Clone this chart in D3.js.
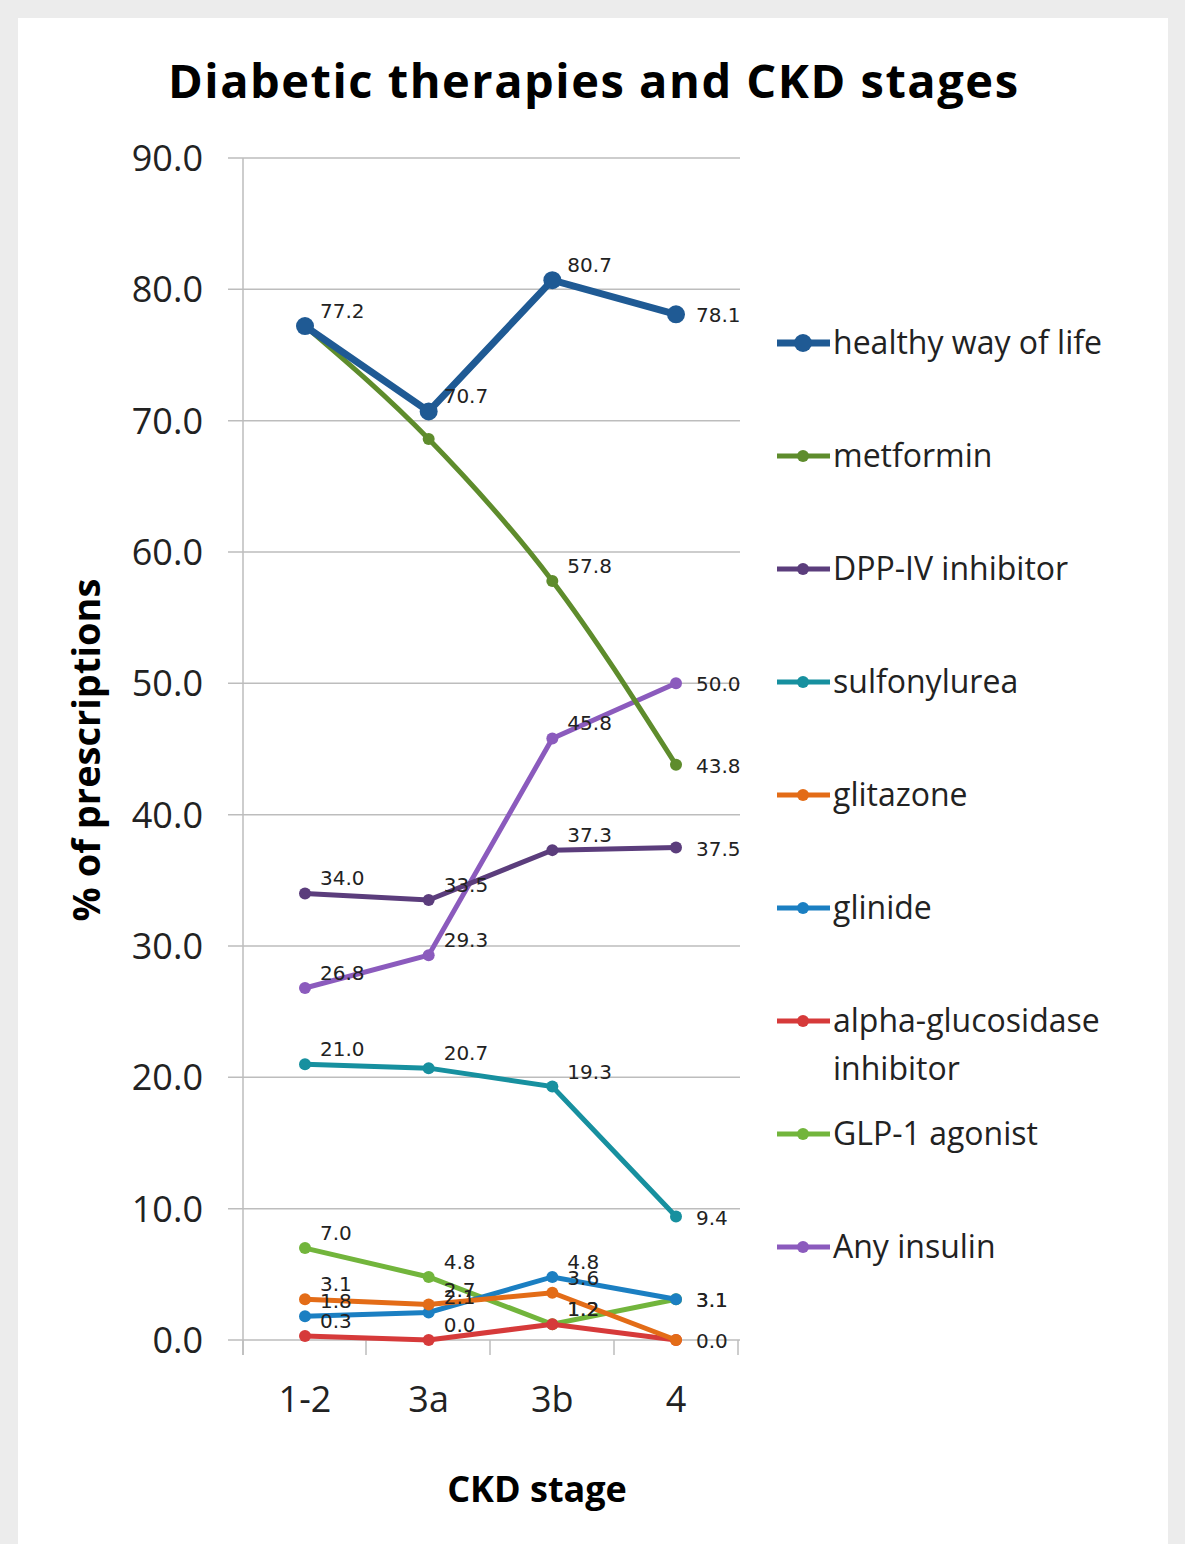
<!DOCTYPE html>
<html lang="en">
<head>
<meta charset="utf-8">
<script src="https://cdn.jsdelivr.net/npm/d3@7"></script>
<style>
body { margin: 0; background: #ececec; font-family: 'Open Sans', 'DejaVu Sans', sans-serif; }
</style>
</head>
<body>
<div id="chart"></div>
<script>
var stages = ["1-2", "3a", "3b", "4"];
var yTicks = [0, 10, 20, 30, 40, 50, 60, 70, 80, 90];
var seriesNames = ["healthy way of life", "metformin", "DPP-IV inhibitor", "sulfonylurea",
  "glitazone", "glinide", "alpha-glucosidase inhibitor", "GLP-1 agonist", "Any insulin"];
var healthy = [77.2, 70.7, 80.7, 78.1];
var metformin = [77.2, 68.6, 57.8, 43.8];
var dpp4 = [34.0, 33.5, 37.3, 37.5];
var sulfonylurea = [21.0, 20.7, 19.3, 9.4];
var glitazone = [3.1, 2.7, 3.6, 0.0];
var glinide = [1.8, 2.1, 4.8, 3.1];
var alphaGluc = [0.3, 0.0, 1.2, 0.0];
var glp1 = [7.0, 4.8, 1.2, 3.1];
var insulin = [26.8, 29.3, 45.8, 50.0];
var colors = ["#1f5a94", "#5e8c2c", "#5b3d7c", "#17909f", "#e36c17", "#1b7fc2", "#d63a3a", "#72b53c", "#8b5bbd"];
var values = [healthy, metformin, dpp4, sulfonylurea, glitazone, glinide, alphaGluc, glp1, insulin];
// which point labels are shown
var showLabel = [[1,1,1,1],[0,0,1,1],[1,1,1,1],[1,1,1,1],[1,1,1,0],[1,1,1,1],[1,1,1,1],[1,1,1,1],[1,1,1,1]];

var W = 1185, H = 1544;
var svg = d3.select("#chart").append("svg").attr("width", W).attr("height", H);
svg.append("rect").attr("x", 18).attr("y", 18).attr("width", 1150).attr("height", 1526).attr("fill", "#fff");

var x = d3.scalePoint().domain(stages).range([305, 676]);
var y = d3.scaleLinear().domain([0, 90]).range([1340, 158]);

svg.append("text").attr("x", 593).attr("y", 98).attr("text-anchor", "middle")
  .style("font-size", "47px").style("font-weight", "bold").attr("textLength", 850)
  .text("Diabetic therapies and CKD stages");

// gridlines
svg.selectAll(".grid").data(yTicks.slice(1)).enter().append("line")
  .attr("x1", 228).attr("x2", 740).attr("y1", d => y(d)).attr("y2", d => y(d))
  .attr("stroke", "#bdbdbd").attr("stroke-width", 1.5);
svg.append("line").attr("x1", 243).attr("x2", 243).attr("y1", 158).attr("y2", 1355).attr("stroke", "#bdbdbd").attr("stroke-width", 1.5);
svg.append("line").attr("x1", 228).attr("x2", 740).attr("y1", y(0)).attr("y2", y(0)).attr("stroke", "#bdbdbd").attr("stroke-width", 1.5);
[243, 366, 490, 614, 738].forEach(function(t) {
  svg.append("line").attr("x1", t).attr("x2", t).attr("y1", 1340).attr("y2", 1355).attr("stroke", "#bdbdbd").attr("stroke-width", 1.5);
});

svg.selectAll(".ytl").data(yTicks).enter().append("text")
  .attr("x", 203).attr("y", d => y(d) + 13).attr("text-anchor", "end")
  .style("font-size", "36px").attr("fill", "#222").text(d => d.toFixed(1));
svg.selectAll(".xtl").data(stages).enter().append("text")
  .attr("x", d => x(d)).attr("y", 1412).attr("text-anchor", "middle")
  .style("font-size", "36px").attr("fill", "#222").text(d => d);

svg.append("text").attr("transform", "translate(100,750) rotate(-90)").attr("text-anchor", "middle")
  .style("font-size", "38px").style("font-weight", "bold").text("% of prescriptions");
svg.append("text").attr("x", 537).attr("y", 1502).attr("text-anchor", "middle")
  .style("font-size", "36px").style("font-weight", "bold").text("CKD stage");

var line = d3.line().x((d, i) => x(stages[i])).y(d => y(d));
var smooth = d3.line().x((d, i) => x(stages[i])).y(d => y(d)).curve(d3.curveMonotoneX);

for (var s = values.length - 1; s >= 0; s--) {
  var thick = s === 0 ? 7 : 5, r = s === 0 ? 9 : 6;
  svg.append("path").datum(values[s]).attr("d", s === 1 ? smooth : line).attr("fill", "none")
    .attr("stroke", colors[s]).attr("stroke-width", thick);
  svg.selectAll(null).data(values[s]).enter().append("circle")
    .attr("cx", (d, i) => x(stages[i])).attr("cy", d => y(d)).attr("r", r).attr("fill", colors[s]);
}
values.forEach(function(v, s) {
  var pts = v.map((d, i) => ({v: d, i: i})).filter(p => showLabel[s][p.i]);
  svg.selectAll(null).data(pts).enter().append("text")
    .attr("x", p => x(stages[p.i]) + (p.i === 3 ? 20 : 15))
    .attr("y", p => y(p.v) + (p.i === 3 ? 8 : -8))
    .style("font-family", "'DejaVu Sans', sans-serif")
    .style("font-size", "20px").attr("fill", "#222").text(p => p.v.toFixed(1));
});

// legend
seriesNames.forEach(function(n, s) {
  var ly = 343 + s * 113;
  svg.append("line").attr("x1", 777).attr("x2", 830).attr("y1", ly).attr("y2", ly)
    .attr("stroke", colors[s]).attr("stroke-width", s === 0 ? 7 : 5);
  svg.append("circle").attr("cx", 803).attr("cy", ly).attr("r", s === 0 ? 9 : 6).attr("fill", colors[s]);
  var t = svg.append("text").attr("x", 833).attr("y", ly + 11).style("font-size", "32px").attr("fill", "#222");
  if (n === "alpha-glucosidase inhibitor") {
    t.append("tspan").text("alpha-glucosidase");
    t.append("tspan").attr("x", 833).attr("dy", 48).text("inhibitor");
  } else t.text(n);
});
</script>
</body>
</html>
